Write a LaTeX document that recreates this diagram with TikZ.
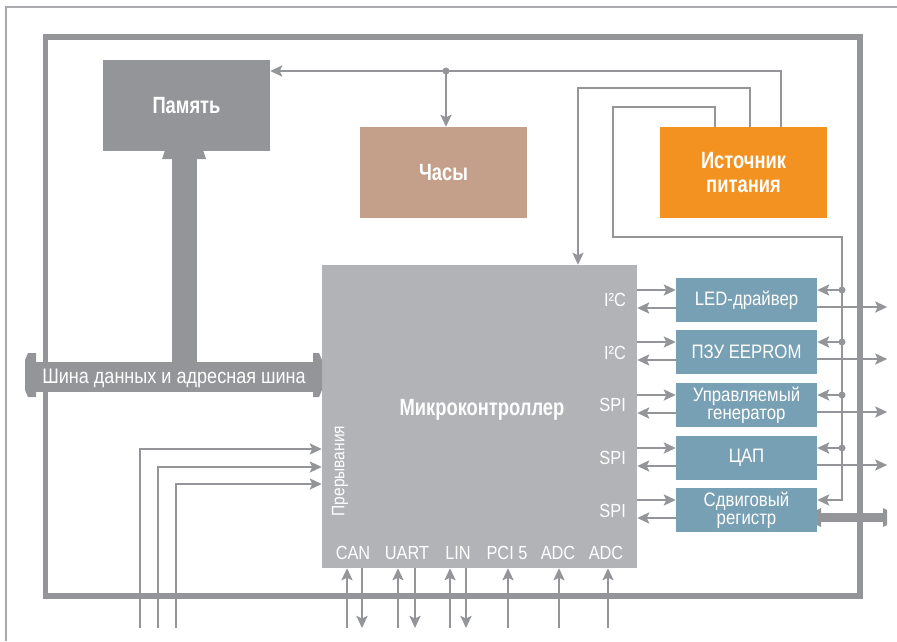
\documentclass[tikz,border=0pt]{standalone}
\usepackage{fontspec}
\setmainfont{Liberation Sans}[FakeStretch=0.86]
\newfontfamily\bcond{Liberation Sans}[FakeStretch=0.78]
\usetikzlibrary{arrows.meta,calc}
\definecolor{frameg}{HTML}{939598}
\definecolor{thing}{HTML}{A8AAAD}
\definecolor{memc}{HTML}{939598}
\definecolor{clockc}{HTML}{C49F8A}
\definecolor{pwrc}{HTML}{F39220}
\definecolor{mcuc}{HTML}{B1B3B6}
\definecolor{bluec}{HTML}{78A0B4}
\tikzset{
  blk/.style={rectangle,inner sep=0pt,text=white,align=center},
  bigblk/.style={blk,minimum width=167pt,minimum height=91pt,font=\bcond\fontsize{23.5}{24}\selectfont\bfseries},
  periph/.style={blk,fill=bluec,minimum width=141pt,minimum height=44pt,font=\fontsize{19.5}{19}\selectfont},
  conn/.style={draw=frameg,line width=2.8pt},
  pinlbl/.style={text=white,inner sep=0pt,font=\fontsize{19}{20}\selectfont},
  dot/.style={fill=frameg},
  >={Stealth[length=12pt,width=11pt,inset=2.5pt]}
}
\begin{document}
\begin{tikzpicture}[x=1pt,y=-1pt]
\useasboundingbox (0,0) rectangle (897,641);
% thin outer frame
\draw[thing,line width=1.5pt] (6,641) -- (6,7) -- (897,7);
% thick frame
\draw[frameg,line width=5.5pt] (45.5,37) rectangle (860,596);
% blocks
\node[bigblk,fill=memc] (mem) at (186.5,105.5) {Память};
\node[bigblk,fill=clockc] (clock) at (443.5,172.5) {Часы};
\node[bigblk,fill=pwrc] (pwr) at (743.5,172.5) {Источник\\питания};
\node[blk,fill=mcuc,minimum width=315pt,minimum height=303pt] (mcu) at (479.5,416.5) {};
\node[text=white,inner sep=0pt,font=\bcond\fontsize{23.5}{24}\selectfont\bfseries] (mcutxt) at (482,410) {Микроконтроллер};
\node[pinlbl,rotate=90,font=\fontsize{18}{19}\selectfont] (irq) at (340,471) {Прерывания};
\node[periph] (led) at (746.5,300) {LED-драйвер};
\node[periph] (eep) at (746.5,352) {ПЗУ EEPROM};
\node[periph,font=\fontsize{19.5}{18}\selectfont] (gen) at (746.5,405) {Управляемый\\генератор};
\node[periph] (dac) at (746.5,458) {ЦАП};
\node[periph,font=\fontsize{19.5}{18}\selectfont] (sr) at (746.5,510) {Сдвиговый\\регистр};
% memory bus (vertical)
\fill[memc] (172,159) rectangle (197,362);
\fill[memc] (165,150) -- (203,150) -- (206,159) -- (162,159) -- cycle;
% data/address bus (horizontal)
\fill[memc] (36,362) rectangle (313,392);
\fill[memc] (36,353) -- (36,397) -- (28,397) -- (25,390) -- (25,360) -- (28,353) -- cycle;
\fill[memc] (313,353) -- (313,397) -- (319,397) -- (322,390) -- (322,360) -- (319,353) -- cycle;
\node[text=white,inner sep=0pt,font=\fontsize{21}{22}\selectfont] (bus) at (174,378) {Шина данных и адресная шина};
% shift register bus
\fill[memc] (821,513) rectangle (884,522);
\fill[memc] (817,510) -- (821,508) -- (821,527) -- (817,525) -- cycle;
\fill[memc] (883,508) -- (887,510) -- (887,525) -- (883,527) -- cycle;
% power lines
\coordinate (jA) at (446,71);
\draw[conn] ([xshift=37.5pt]pwr.north) |- (jA);
\draw[conn,->] (jA) -- (jA -| mem.east);
\draw[conn,->] (jA) -- (jA |- clock.north);
\fill[dot] (jA) circle (3.5pt);
\coordinate (bB) at (578,88);
\draw[conn,->] ([xshift=6.5pt]pwr.north) |- (bB) -- (bB |- mcu.north);
\coordinate (cC1) at (613,107);
\coordinate (cC2) at (613,237);
\coordinate (rail) at (842,237);
\draw[conn,->] ([xshift=-28.5pt]pwr.north) |- (cC1) -- (cC2) -- (rail) |- ([yshift=10pt]sr.east);
\foreach \b in {led,eep,gen,dac}{
  \draw[conn,->] ([yshift=10pt]\b.east -| rail) -- ([yshift=10pt]\b.east);
  \fill[dot] ([yshift=10pt]\b.east -| rail) circle (3.5pt);
  \draw[conn,->] ([yshift=-7pt]\b.east) -- ++(70,0);
}
% MCU <-> peripherals
\foreach \b in {led,eep,gen,dac,sr}{
  \draw[conn,->] ([yshift=10pt]\b.west -| mcu.east) -- ([yshift=10pt]\b.west);
  \draw[conn,->] ([yshift=-8pt]\b.west) -- ([yshift=-8pt]\b.west -| mcu.east);
}
\node[pinlbl,anchor=east] (l1) at (626,300) {I²C};
\node[pinlbl,anchor=east] (l2) at (626,353) {I²C};
\node[pinlbl,anchor=east] (l3) at (626,405) {SPI};
\node[pinlbl,anchor=east] (l4) at (626,458) {SPI};
\node[pinlbl,anchor=east] (l5) at (626,511) {SPI};
% bottom pin labels
\node[pinlbl] (can) at (353,553) {CAN};
\node[pinlbl] (uart) at (407,553) {UART};
\node[pinlbl] (lin) at (458,553) {LIN};
\node[pinlbl] (pci) at (507,553) {PCI 5};
\node[pinlbl] (adc1) at (558,553) {ADC};
\node[pinlbl] (adc2) at (606,553) {ADC};
% bottom pins
\foreach \x [count=\i] in {347,398,450,508,559,608}{
  \coordinate (pu\i) at (\x,628);
  \draw[conn,->] (pu\i) -- (pu\i |- mcu.south);
}
\foreach \x [count=\i] in {362,415,466}{
  \coordinate (pd\i) at (\x,628);
  \draw[conn,->] (pd\i |- mcu.south) -- (pd\i);
}
% interrupts
\coordinate (i1) at (140,628);
\coordinate (i2) at (158,628);
\coordinate (i3) at (176,628);
\draw[conn,->] (i1) |- ([yshift=-32.5pt]mcu.west);
\draw[conn,->] (i2) |- ([yshift=-50.5pt]mcu.west);
\draw[conn,->] (i3) |- ([yshift=-67.5pt]mcu.west);
\end{tikzpicture}
\end{document}
